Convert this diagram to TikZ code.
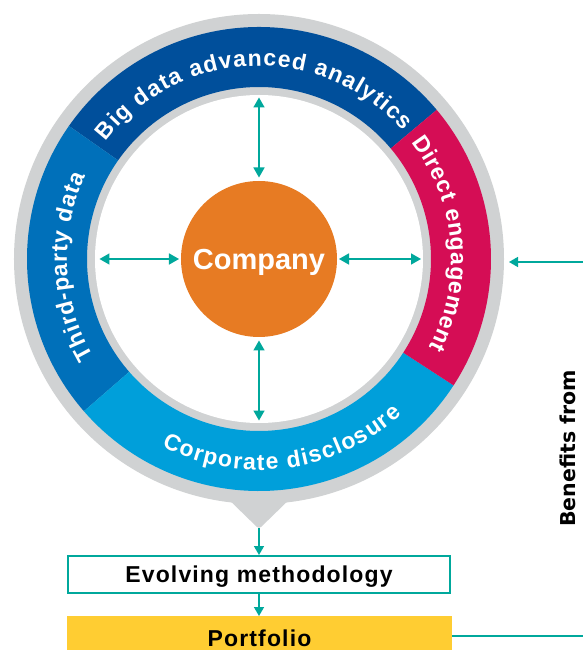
\documentclass[tikz,border=0pt]{standalone}
\usepackage{fontspec}
\setmainfont{Liberation Sans}
\newfontfamily\boxfont[LetterSpace=5]{Liberation Sans}
\newfontfamily\benfont{DejaVu Sans}
\usetikzlibrary{arrows.meta,decorations.text}
\definecolor{ringgray}{RGB}{208,210,211}
\definecolor{bigblue}{RGB}{0,79,155}
\definecolor{thirdblue}{RGB}{0,112,186}
\definecolor{corpblue}{RGB}{0,159,218}
\definecolor{directred}{RGB}{213,13,85}
\definecolor{comporange}{RGB}{231,123,35}
\definecolor{tealc}{RGB}{0,168,156}
\definecolor{portyellow}{RGB}{255,205,50}
\tikzset{
  tline/.style={draw=tealc, line width=1.6pt},
  twoway/.style={tline, {Triangle[length=10pt,width=11pt]}-{Triangle[length=10pt,width=11pt]}},
  oneway/.style={tline, -{Triangle[length=9pt,width=10pt]}},
  ringtext/.style={decorate, decoration={text along path, text color=white,
      text align=fit to path, text={|\fontsize{23}{27}\selectfont\bfseries|#1}}},
  boxtext/.style={font=\boxfont\bfseries\fontsize{23}{26}\selectfont, text=black}
}
\begin{document}
\begin{tikzpicture}[x=1pt,y=1pt]
\useasboundingbox (-259,-391) rectangle (324,259);
% outer gray ring and pointer
\fill[ringgray] (0,0) circle[radius=245];
\fill[ringgray, rounded corners=3pt] (-36,-235) -- (0,-270) -- (36,-235) -- cycle;
% coloured segments
\fill[bigblue] (40:232) arc[start angle=40,end angle=145,radius=232] -- (145:172) arc[start angle=145,end angle=40,radius=172] -- cycle;
\fill[thirdblue] (145:232) arc[start angle=145,end angle=221,radius=232] -- (221:172) arc[start angle=221,end angle=145,radius=172] -- cycle;
\fill[corpblue] (221:232) arc[start angle=221,end angle=327,radius=232] -- (327:172) arc[start angle=327,end angle=221,radius=172] -- cycle;
\fill[directred] (327:232) arc[start angle=327,end angle=400,radius=232] -- (400:172) arc[start angle=400,end angle=327,radius=172] -- cycle;
% inner white disc
\fill[white] (0,0) circle[radius=164];
% ring texts
\path[ringtext={Big data advanced analytics}] (142.5:193) arc[start angle=142.5,end angle=41.5,radius=193];
\path[ringtext={Direct engagement}] (37.5:192) arc[start angle=37.5,end angle=-27.5,radius=192];
\path[ringtext={Third-party data}] (210.5:192) arc[start angle=210.5,end angle=154.5,radius=192];
\path[ringtext={Corporate disclosure}] (242.5:211) arc[start angle=242.5,end angle=312.5,radius=211];
% company
\node[circle, fill=comporange, minimum size=156pt, inner sep=0pt, text=white,
      font=\bfseries\fontsize{29}{32}\selectfont, text height=21pt, text depth=0pt] (company) at (0,0) {Company};
\coordinate (inN) at (0,161.5);
\coordinate (inS) at (0,-161.5);
\coordinate (inW) at (-159.5,0);
\coordinate (inE) at (162,0);
\coordinate (cN) at (0,81.5);
\coordinate (cS) at (0,-81.5);
\coordinate (cW) at (-80,0);
\coordinate (cE) at (80,0);
\draw[twoway] (inN) -- (cN);
\draw[twoway] (inS) -- (cS);
\draw[twoway] (inW) -- (cW);
\draw[twoway] (inE) -- (cE);
% pointer tip and boxes
\coordinate (ptip) at (0,-269);
\node[draw=tealc, line width=2pt, fill=white, minimum width=382pt, minimum height=37pt, inner sep=0pt,
      boxtext, text height=16.5pt, text depth=0pt] (evolve) at (0,-315.5) {Evolving methodology};
\node[fill=portyellow, minimum width=385pt, minimum height=40pt, inner sep=0pt, anchor=north,
      boxtext, text height=17pt, text depth=0pt] (port) at (0.5,-357) {\raisebox{-1.5pt}{Portfolio}};
\draw[oneway] (ptip) -- (evolve.north);
\draw[oneway] (evolve.south) -- (evolve.south |- port.north);
% right side
\coordinate (pend) at (324,-377);
\draw[tealc, line width=1.2pt] (port.east |- pend) -- (pend);
\coordinate (rstart) at (324,-3);
\coordinate (rend) at (250,-3);
\draw[oneway] (rstart) -- (rend);
\node[rotate=90, anchor=base, font=\benfont\bfseries\fontsize{20.5}{24}\selectfont] (ben) at (316,-189.5) {Benefits from};
\end{tikzpicture}
\end{document}
